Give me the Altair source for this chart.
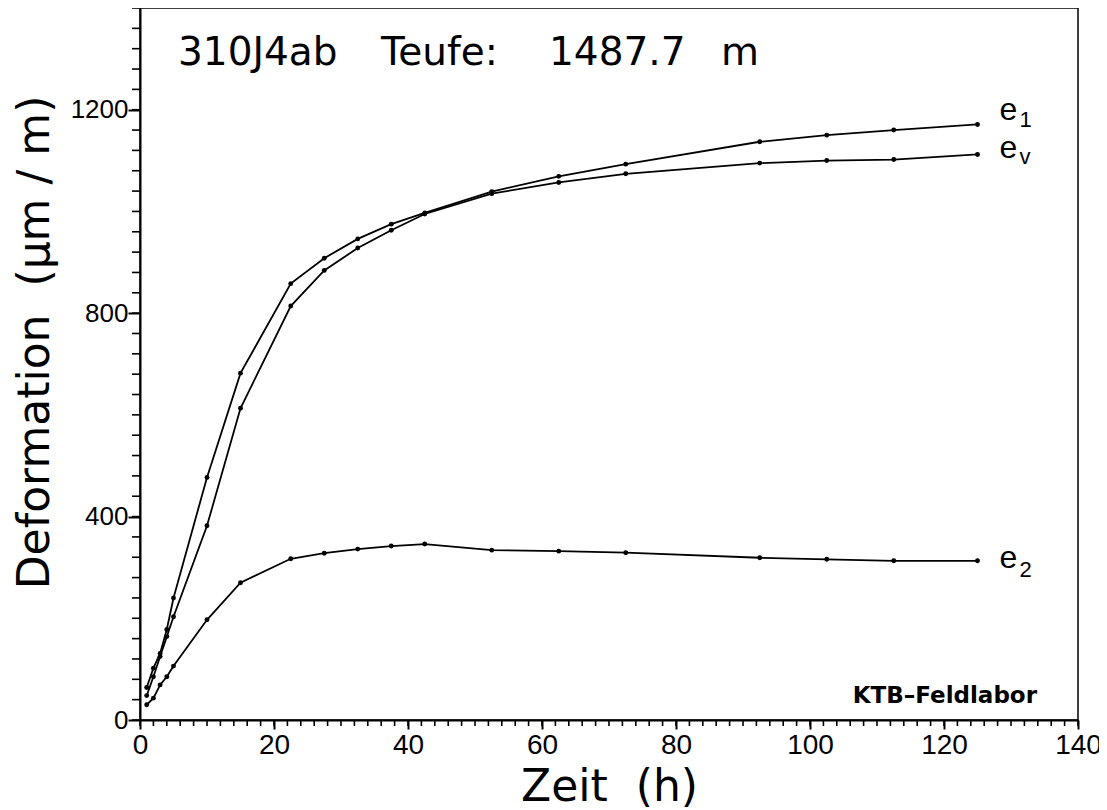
import altair as alt
import pandas as pd

# ---- data ----
time_h = [1, 2, 3, 4, 5, 10, 15, 22.5, 27.5, 32.5, 37.5, 42.5, 52.5, 62.5, 72.5, 92.5, 102.5, 112.5, 125]
e1 = [64, 102, 131, 178, 240, 477, 682, 858, 908, 946, 975, 997, 1039, 1069, 1093, 1137, 1150, 1160, 1171]
ev = [48, 85, 125, 164, 203, 382, 613, 814, 884, 928, 963, 995, 1035, 1057, 1074, 1095, 1100, 1102, 1112]
e2 = [30, 43, 69, 85, 106, 197, 270, 317, 328, 336, 342, 346, 334, 332, 329, 319, 316, 313, 313]

series_names = ["e1", "ev", "e2"]
series_main = ["e", "e", "e"]
series_sub = ["1", "v", "2"]
series_values = [e1, ev, e2]

x_major = list(range(0, 141, 20))
x_minor = list(range(0, 141, 2))
y_major = [0, 400, 800, 1200]
y_minor = list(range(0, 1401, 40))

title_words = ["310J4ab", "Teufe:", "1487.7", "m"]
credit_text = "KTB\u2013Feldlabor"
NB = "\u00a0"

rows = []
for name, vals in zip(series_names, series_values):
    for t, v in zip(time_h, vals):
        rows.append({"series": name, "t": t, "v": v})
df = pd.DataFrame(rows)

W, H = 938, 712
FONT = "Liberation Sans"

xaxis = alt.Axis(
    values=x_major, format="d", tickSize=9,
    title="Zeit" + NB + NB + "(h)",
    titleFont="DejaVu Sans", titleFontSize=44, titleFontWeight="normal",
    titleColor="black", titleY=80, titleBaseline="alphabetic",
    labelFont=FONT, labelFontSize=28, labelColor="black", labelPadding=2,
    labelFlush=False, labelOverlap=False,
    grid=False, domainColor="black", domainWidth=2,
    tickColor="black", tickWidth=2,
)
yaxis = alt.Axis(
    values=y_major, format="d", tickSize=12,
    title="Deformation" + NB + NB + "(\u03bcm" + NB + "/" + NB + "m)",
    titleFont="DejaVu Sans", titleFontSize=44, titleFontWeight="normal",
    titleColor="black", titleX=-92, titleY=334, titleAngle=270,
    titleBaseline="alphabetic", titleAlign="center",
    labelFont=FONT, labelFontSize=26, labelColor="black", labelPadding=0,
    labelFlush=False, labelOverlap=False,
    grid=False, domainColor="black", domainWidth=2,
    tickColor="black", tickWidth=2,
)

X = alt.X("t:Q", scale=alt.Scale(domain=[0, 140], nice=False, zero=False), axis=xaxis)
Y = alt.Y("v:Q", scale=alt.Scale(domain=[0, 1400], nice=False), axis=yaxis)

# minor ticks drawn through the same scales
xt = alt.Chart(pd.DataFrame({"t": x_minor})).mark_rule(color="black", strokeWidth=1.6).encode(
    x=X, y=alt.value(H), y2=alt.value(H + 6)
)
yt = alt.Chart(pd.DataFrame({"v": y_minor})).mark_rule(color="black", strokeWidth=1.6).encode(
    y=Y, x=alt.value(0), x2=alt.value(-8)
)

base = alt.Chart(df).encode(x=X, y=Y, detail="series:N")
lines = base.mark_line(color="black", strokeWidth=1.8)
pts = base.mark_circle(color="black", size=24, opacity=1)

layers = [xt, yt, lines, pts]

# series labels at the end of each line
main_dy = {"e1": -4, "ev": 4, "e2": 7}
sub_dy = {"e1": 3, "ev": 10, "e2": 16}
for name, mtxt, stxt, vals in zip(series_names, series_main, series_sub, series_values):
    ldf = pd.DataFrame({"t": [time_h[-1]], "v": [vals[-1]], "m": [mtxt], "s": [stxt]})
    layers.append(
        alt.Chart(ldf).mark_text(align="left", baseline="alphabetic", dx=22, dy=main_dy[name],
                                 font=FONT, fontSize=32, color="black")
        .encode(x=X, y=Y, text="m:N")
    )
    layers.append(
        alt.Chart(ldf).mark_text(align="left", baseline="alphabetic", dx=42, dy=sub_dy[name],
                                 font=FONT, fontSize=22, color="black")
        .encode(x=X, y=Y, text="s:N")
    )

# heading, word by word (wide plotter spacing)
word_x = [38, 241, 409, 581]
for w, wx in zip(title_words, word_x):
    layers.append(
        alt.Chart(pd.DataFrame({"txt": [w]})).mark_text(
            align="left", baseline="alphabetic", font="DejaVu Sans", fontSize=39, color="black"
        ).encode(x=alt.value(wx), y=alt.value(57), text="txt:N")
    )

credit_mark = alt.Chart(pd.DataFrame({"txt": [credit_text]})).mark_text(
    align="right", baseline="alphabetic", font="DejaVu Sans", fontSize=23,
    fontWeight="bold", color="black"
).encode(x=alt.value(897), y=alt.value(695), text="txt:N")
layers.append(credit_mark)

chart = alt.layer(*layers).properties(
    width=W, height=H,
    autosize=alt.AutoSizeParams(type="none"),
    padding={"left": 132, "top": 0, "right": 21, "bottom": 90},
    background="white",
).configure_view(stroke="black", strokeWidth=1.5)

chart.save("out.html", embed_options={"renderer": "svg", "actions": False})
